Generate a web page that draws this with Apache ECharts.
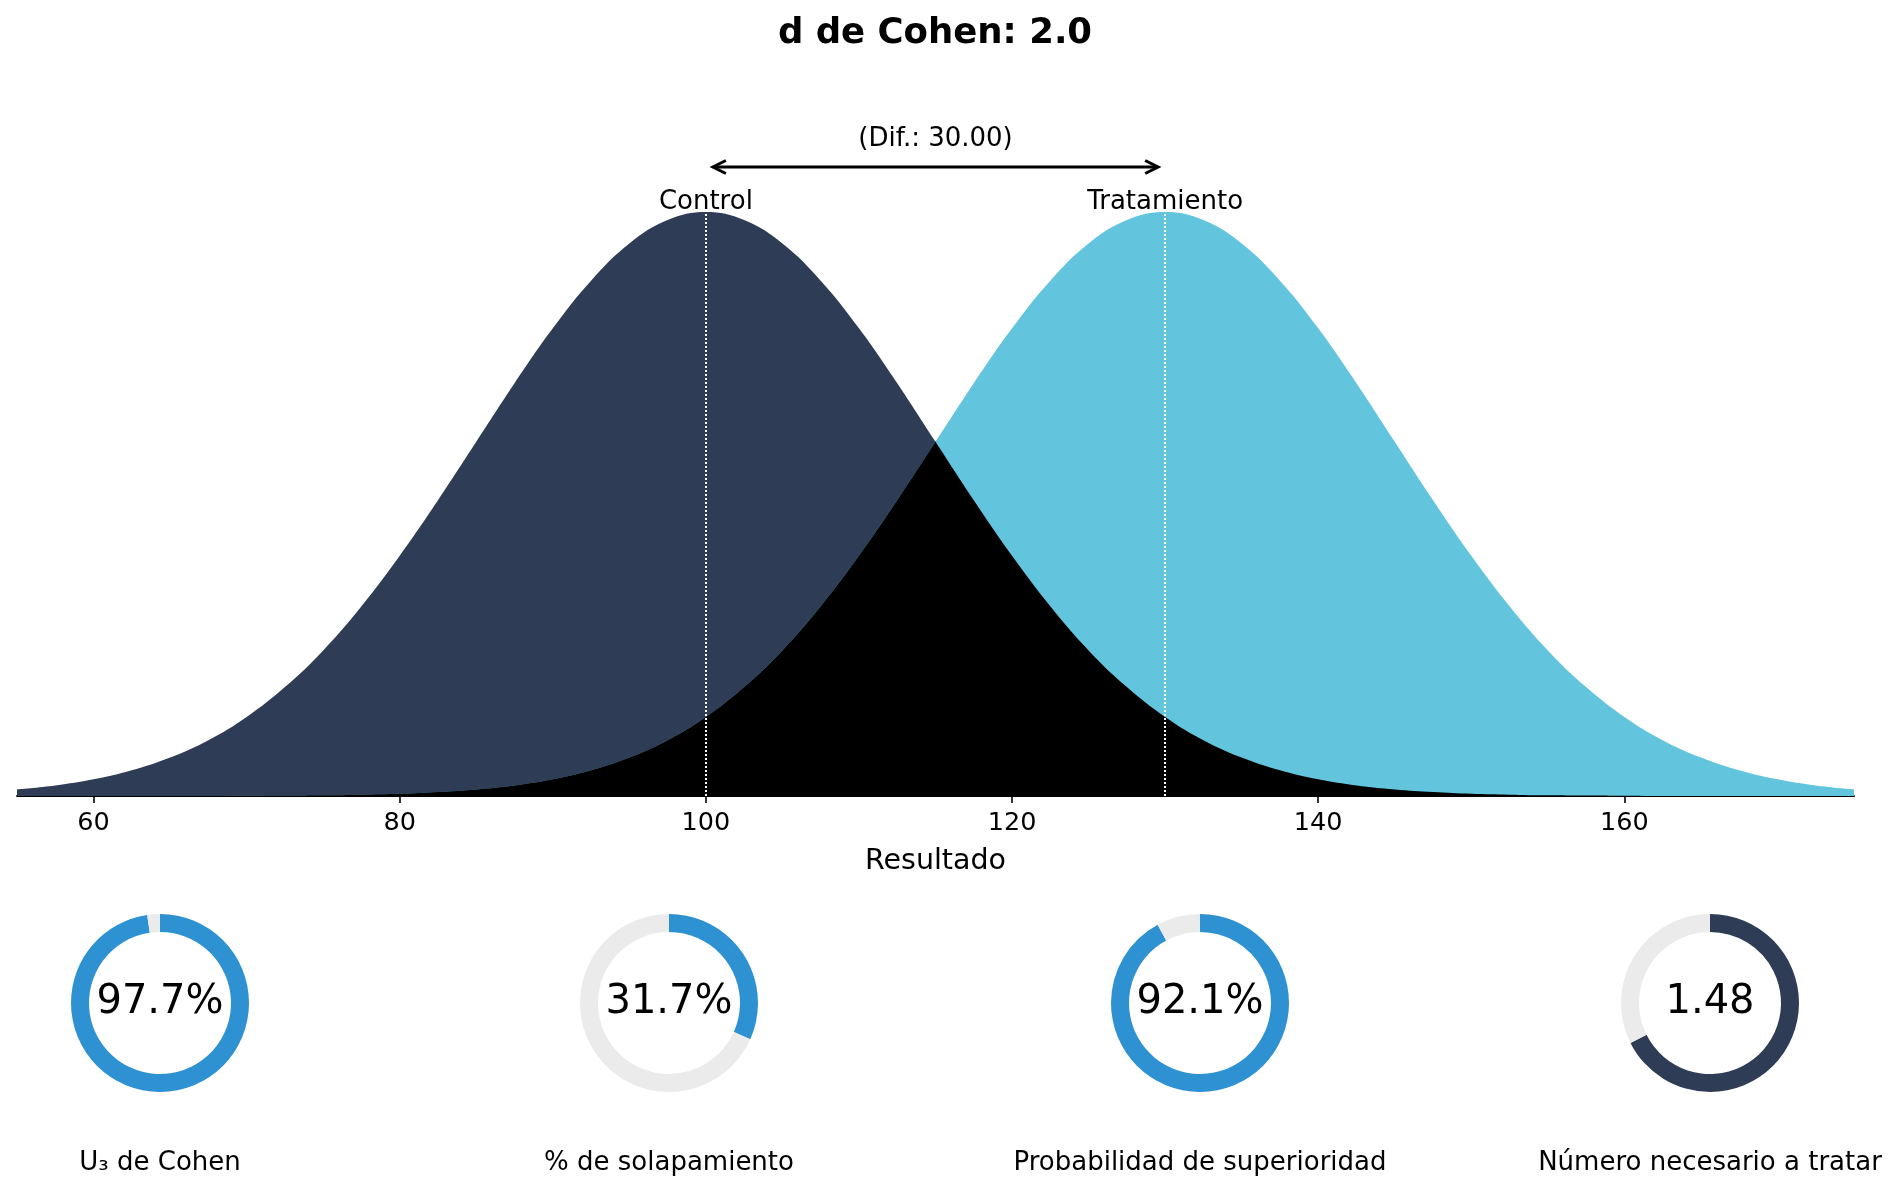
<!DOCTYPE html>
<html>
<head>
<meta charset="utf-8">
<script src="https://cdn.jsdelivr.net/npm/echarts@6/dist/echarts.min.js"></script>
<style>
  html, body { margin: 0; padding: 0; background: #fff; }
  #chart { width: 1899px; height: 1192px; }
</style>
</head>
<body>
<div id="chart"></div>
<script>
// valores (densidad x 1000), cada 2.5 unidades
var xValues = [55, 57.5, 60, 62.5, 65, 67.5, 70, 72.5, 75, 77.5, 80, 82.5, 85, 87.5, 90, 92.5, 95, 97.5,
               100, 102.5, 105, 107.5, 110, 112.5, 115, 117.5, 120, 122.5, 125, 127.5, 130, 132.5, 135, 137.5,
               140, 142.5, 145, 147.5, 150, 152.5, 155, 157.5, 160, 162.5, 165, 167.5, 170, 172.5, 175];
var controlDensity = [0.30, 0.48, 0.76, 1.17, 1.75, 2.54, 3.60, 4.96, 6.63, 8.64, 10.94, 13.47, 16.13, 18.80, 21.30, 23.47, 25.16, 26.23,
                      26.60, 26.23, 25.16, 23.47, 21.30, 18.80, 16.13, 13.47, 10.94, 8.64, 6.63, 4.96, 3.60, 2.54, 1.75, 1.17,
                      0.76, 0.48, 0.30, 0.18, 0.10, 0.06, 0.03, 0.02, 0.01, 0.00, 0.00, 0.00, 0.00, 0.00, 0.00];
var treatmentDensity = [0.00, 0.00, 0.00, 0.00, 0.00, 0.00, 0.01, 0.02, 0.03, 0.06, 0.10, 0.18, 0.30, 0.48, 0.76, 1.17, 1.75, 2.54,
                        3.60, 4.96, 6.63, 8.64, 10.94, 13.47, 16.13, 18.80, 21.30, 23.47, 25.16, 26.23, 26.60, 26.23, 25.16, 23.47,
                        21.30, 18.80, 16.13, 13.47, 10.94, 8.64, 6.63, 4.96, 3.60, 2.54, 1.75, 1.17, 0.76, 0.48, 0.30];
var groupNames = ['Control', 'Tratamiento'];
var groupMeans = [100, 130];
var tickValues = [60, 80, 100, 120, 140, 160];

var metricNames = ['U\u2083 de Cohen', '% de solapamiento', 'Probabilidad de superioridad', 'N\u00famero necesario a tratar'];
var metricFractions = [0.977, 0.317, 0.921, 0.676];
var metricTexts = ['97.7%', '31.7%', '92.1%', '1.48'];

var FONT = '"DejaVu Sans", sans-serif';
var navy = '#2f3c56';
var lightBlue = '#63c4de';
var ringBlue = '#2e91d2';
var ringGrey = '#ebebeb';
var ringColors = [ringBlue, ringBlue, ringBlue, navy];
var donutCenters = [160, 669, 1200, 1710];

function pairs(ys) {
    return xValues.map(function (x, i) { return [x, ys[i]]; });
}

var xMin = xValues[0], xMax = xValues[xValues.length - 1];
var crossing = (groupMeans[0] + groupMeans[1]) / 2;
var peakControl = Math.max.apply(null, controlDensity);
var peakTreatment = Math.max.apply(null, treatmentDensity);

var chart = echarts.init(document.getElementById('chart'));

function areaSeries(ys, color, z) {
    var s = {
        type: 'line', data: pairs(ys), smooth: 0.4, symbol: 'none',
        lineStyle: { width: 0, opacity: 0 },
        areaStyle: { opacity: 1 }, z: z, silent: true
    };
    if (color) s.areaStyle.color = color;
    return s;
}

var series = [
    areaSeries(controlDensity, navy, 2),
    areaSeries(treatmentDensity, lightBlue, 2),
    // solapamiento: misma curva, coloreada solo donde es la menor
    areaSeries(treatmentDensity, null, 3),
    areaSeries(controlDensity, null, 3),
    // marcas (lineas punteadas y etiquetas)
    {
        type: 'line', data: [], symbol: 'none', z: 10,
        markLine: {
            silent: true, symbol: 'none', animation: false,
            lineStyle: { color: '#fff', type: 'dotted', width: 2 },
            label: { show: false },
            data: [[{ coord: [groupMeans[0], 0] }, { coord: [groupMeans[0], peakControl] }],
                   [{ coord: [groupMeans[1], 0] }, { coord: [groupMeans[1], peakTreatment] }]]
        },
        markPoint: {
            symbol: 'circle', symbolSize: 0, animation: false,
            label: { show: true, position: 'top', distance: -3, color: '#000', fontFamily: FONT, fontSize: 26 },
            data: [
                { coord: [groupMeans[0], peakControl], label: { formatter: groupNames[0] } },
                { coord: [groupMeans[1], peakTreatment], label: { formatter: groupNames[1] } }
            ]
        }
    }
];

metricFractions.forEach(function (f, i) {
    series.push({
        type: 'pie',
        radius: [71, 89],
        center: [donutCenters[i], 1003],
        startAngle: 90,
        clockwise: true,
        silent: true,
        animation: false,
        label: { show: false },
        labelLine: { show: false },
        data: [
            {
                value: f, itemStyle: { color: ringColors[i] },
                label: {
                    show: true, position: 'center', formatter: metricTexts[i],
                    color: '#000', fontFamily: FONT, fontSize: 40
                }
            },
            { value: 1 - f, itemStyle: { color: ringGrey }, label: { show: false } }
        ]
    });
});

chart.setOption({
    animation: false,
    title: {
        text: 'd de Cohen: 2.0',
        left: 935, top: 16, padding: 0, textAlign: 'center',
        textStyle: { fontFamily: FONT, fontSize: 35.5, fontWeight: 'bold', color: '#000' }
    },
    grid: { left: 17, right: 45, top: 100, bottom: 396 },
    xAxis: {
        type: 'value', min: xMin, max: xMax,
        name: 'Resultado', nameLocation: 'middle', nameGap: 51,
        nameTextStyle: { fontFamily: FONT, fontSize: 28.5, color: '#000' },
        axisLine: { show: true, onZero: false, lineStyle: { color: '#000', width: 1.8 } },
        axisTick: { show: true, customValues: tickValues, length: 7, lineStyle: { color: '#000', width: 1.6 } },
        axisLabel: { customValues: tickValues, fontFamily: FONT, fontSize: 25.5, color: '#000', margin: 14 },
        splitLine: { show: false }
    },
    yAxis: { type: 'value', min: 0, max: 31.7, show: false, splitLine: { show: false } },
    visualMap: [
        {
            type: 'piecewise', show: false, seriesIndex: 2, dimension: 0,
            pieces: [{ min: xMin - 10, max: crossing, color: '#000' }, { min: crossing, max: xMax + 10, color: 'rgba(0,0,0,0)' }]
        },
        {
            type: 'piecewise', show: false, seriesIndex: 3, dimension: 0,
            pieces: [{ min: xMin - 10, max: crossing, color: 'rgba(0,0,0,0)' }, { min: crossing, max: xMax + 10, color: '#000' }]
        }
    ],
    series: series
});

// flecha de diferencia y etiquetas inferiores
var pL = chart.convertToPixel({ gridIndex: 0 }, [groupMeans[0], peakControl]);
var pR = chart.convertToPixel({ gridIndex: 0 }, [groupMeans[1], peakTreatment]);
var arrowY = pL[1] - 45;
var x1 = pL[0] + 7, x2 = pR[0] - 7;
var graphics = [
    { type: 'line', shape: { x1: x1, y1: arrowY, x2: x2, y2: arrowY }, style: { stroke: '#000', lineWidth: 3 }, silent: true },
    { type: 'polyline', shape: { points: [[x1 + 13, arrowY - 6.5], [x1, arrowY], [x1 + 13, arrowY + 6.5]] }, style: { stroke: '#000', lineWidth: 3, fill: null }, silent: true },
    { type: 'polyline', shape: { points: [[x2 - 13, arrowY - 6.5], [x2, arrowY], [x2 - 13, arrowY + 6.5]] }, style: { stroke: '#000', lineWidth: 3, fill: null }, silent: true },
    {
        type: 'text', x: (pL[0] + pR[0]) / 2, y: pL[1] - 73, silent: true,
        style: {
            text: '(Dif.: ' + (groupMeans[1] - groupMeans[0]).toFixed(2) + ')',
            fill: '#000', font: '26px ' + FONT, align: 'center', verticalAlign: 'middle'
        }
    }
];
metricNames.forEach(function (name, i) {
    graphics.push({
        type: 'text', x: donutCenters[i], y: 1163, silent: true,
        style: { text: name, fill: '#000', font: '26px ' + FONT, align: 'center', verticalAlign: 'middle' }
    });
});
chart.setOption({ graphic: graphics });
</script>
</body>
</html>
